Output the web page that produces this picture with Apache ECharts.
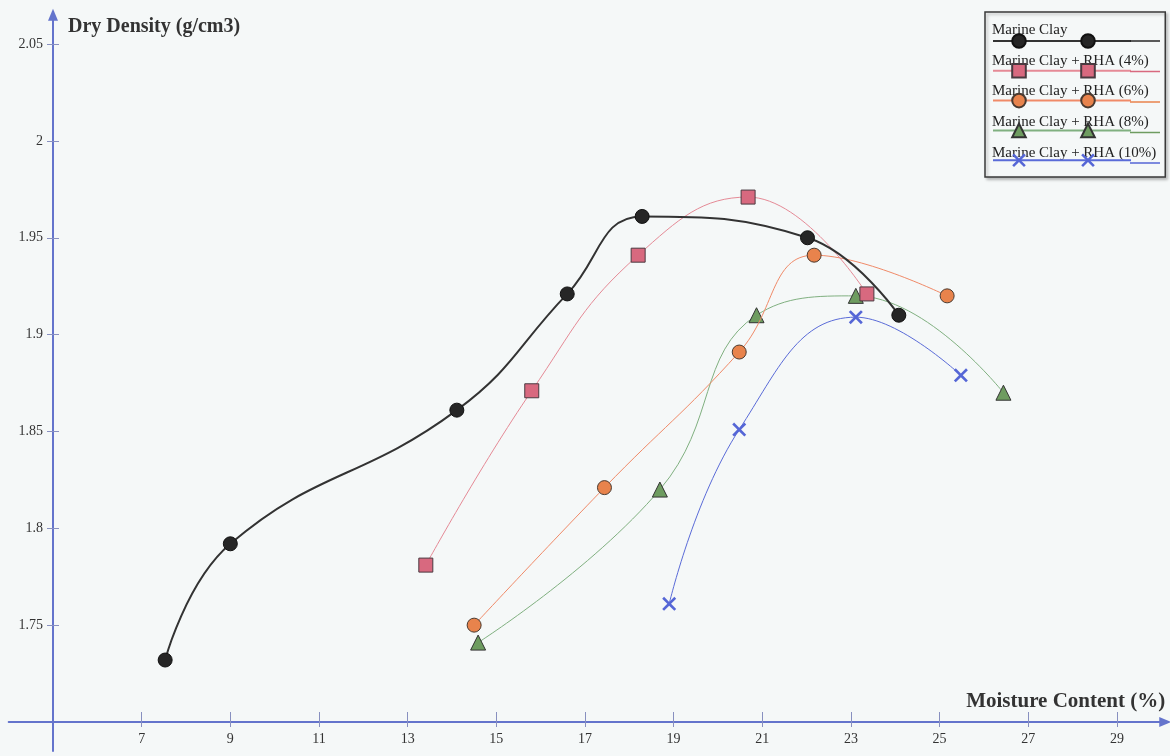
<!DOCTYPE html>
<html>
<head>
<meta charset="utf-8">
<script src="https://cdn.jsdelivr.net/npm/echarts@6/dist/echarts.min.js"></script>
<style>
html,body{margin:0;padding:0;background:#f5f8f8;}
#chart{width:1170px;height:756px;}
</style>
</head>
<body>
<div id="chart"></div>
<script>
// ---- data ----
const xTicks = [7, 9, 11, 13, 15, 17, 19, 21, 23, 25, 27, 29];
const yTicks = [1.75, 1.8, 1.85, 1.9, 1.95, 2, 2.05];

const seriesNames = ['Marine Clay', 'Marine Clay + RHA (4%)', 'Marine Clay + RHA (6%)', 'Marine Clay + RHA (8%)', 'Marine Clay + RHA (10%)'];

const mcX = [7.53, 9.0, 14.11, 16.60, 18.29, 22.02, 24.08];
const mcY = [1.732, 1.792, 1.861, 1.921, 1.961, 1.950, 1.910];

const rha4X = [13.41, 15.80, 18.20, 20.68, 23.36];
const rha4Y = [1.781, 1.871, 1.941, 1.971, 1.921];

const rha6X = [14.50, 17.44, 20.48, 22.17, 25.17];
const rha6Y = [1.750, 1.821, 1.891, 1.941, 1.920];

const rha8X = [14.59, 18.69, 20.87, 23.11, 26.44];
const rha8Y = [1.741, 1.820, 1.910, 1.920, 1.870];

const rha10X = [18.90, 20.48, 23.11, 25.48];
const rha10Y = [1.761, 1.851, 1.909, 1.879];

// ---- styling ----
const FONT = 'Liberation Serif';
const AXIS_BLUE = '#6474cc';
const xPath = 'path://M0,1.6 L1.6,0 L6,4.4 L10.4,0 L12,1.6 L7.6,6 L12,10.4 L10.4,12 L6,7.6 L1.6,12 L0,10.4 L4.4,6 Z';

const styles = [
  {symbol: 'circle', size: 14, fill: '#262626', border: '#111', bw: 1, line: '#333333', lw: 2},
  {symbol: 'rect', size: 14, fill: '#d8697f', border: '#4a3a40', bw: 1, line: '#e58a96', lw: 1},
  {symbol: 'circle', size: 14, fill: '#e8834c', border: '#4a3a30', bw: 1, line: '#f08a68', lw: 1},
  {symbol: 'triangle', size: 15, fill: '#6e9c60', border: '#333', bw: 1, line: '#80b080', lw: 1},
  {symbol: xPath, size: 14, fill: '#5566d6', border: '#5566d6', bw: 0, line: '#5a6bd8', lw: 1}
];

function zip(xs, ys) { return xs.map((x, i) => [x, ys[i]]); }
const dataSets = [zip(mcX, mcY), zip(rha4X, rha4Y), zip(rha6X, rha6Y), zip(rha8X, rha8Y), zip(rha10X, rha10Y)];

const series = dataSets.map((d, i) => ({
  type: 'line',
  name: seriesNames[i],
  data: d,
  smooth: 0.45,
  symbol: styles[i].symbol,
  symbolSize: styles[i].size,
  showAllSymbol: true,
  z: 5 - i + 2,
  lineStyle: {color: styles[i].line, width: styles[i].lw},
  itemStyle: {color: styles[i].fill, borderColor: styles[i].border, borderWidth: styles[i].bw}
}));

// geometry: x 5 -> 53px, 44.33 px/unit ; y 1.70 -> 722px, 1937 px/unit
const X_MIN = 4, X_MAX = 30;
const Y_MIN = 1.685, Y_MAX = 2.063;
const PX_X = 44.33, PX_Y = 1937;
const gridLeft = 53 - (5 - X_MIN) * PX_X;
const gridRight = 1170 - (53 + (X_MAX - 5) * PX_X);
const gridTop = 722 - (Y_MAX - 1.70) * PX_Y;
const gridBottom = 756 - (722 + (1.70 - Y_MIN) * PX_Y);
const yOffset = -(5 - X_MIN) * PX_X;
const xOffset = -(1.70 - Y_MIN) * PX_Y;

const tickLabelStyle = {fontFamily: FONT, fontSize: 14, color: '#333'};
const nameStyle = {fontFamily: FONT, fontSize: 20, fontWeight: 'bold', color: '#333'};

const option = {
  backgroundColor: '#f5f8f8',
  animation: false,
  grid: {left: gridLeft, right: gridRight, top: gridTop, bottom: gridBottom, containLabel: false},
  xAxis: [
    {
      type: 'value', min: X_MIN, max: X_MAX, position: 'bottom', offset: xOffset,
      axisLine: {show: true, lineStyle: {color: AXIS_BLUE, width: 2}, symbol: ['none', 'triangle'], symbolSize: [10, 12], symbolOffset: [0, 4]},
      axisTick: {show: true, customValues: xTicks, length: 5, lineStyle: {color: '#8890c0', width: 1}},
      axisLabel: {customValues: xTicks, margin: 10, ...tickLabelStyle},
      splitLine: {show: false},
      name: 'Moisture Content (%)', nameLocation: 'end', nameGap: 4,
      nameTextStyle: {...nameStyle, fontSize: 21, align: 'right', verticalAlign: 'bottom', padding: [0, 0, 10, 0]}
    },
    {
      type: 'value', min: X_MIN, max: X_MAX, position: 'bottom', offset: xOffset,
      axisLine: {show: false},
      axisTick: {show: true, customValues: xTicks, inside: true, length: 10, lineStyle: {color: '#8890c0', width: 1}},
      axisLabel: {show: false},
      splitLine: {show: false}
    }
  ],
  yAxis: [
    {
      type: 'value', min: Y_MIN, max: Y_MAX, position: 'left', offset: yOffset,
      axisLine: {show: true, lineStyle: {color: AXIS_BLUE, width: 2}, symbol: ['none', 'triangle'], symbolSize: [10, 12], symbolOffset: [0, 4]},
      axisTick: {show: true, customValues: yTicks, length: 6, lineStyle: {color: '#8890c0', width: 1}},
      axisLabel: {customValues: yTicks, margin: 10, ...tickLabelStyle},
      splitLine: {show: false},
      name: 'Dry Density (g/cm3)', nameLocation: 'end', nameGap: -8,
      nameTextStyle: {...nameStyle, align: 'left', verticalAlign: 'middle', padding: [0, 0, 0, 15]}
    },
    {
      type: 'value', min: Y_MIN, max: Y_MAX, position: 'left', offset: yOffset,
      axisLine: {show: false},
      axisTick: {show: true, customValues: yTicks, inside: true, length: 6, lineStyle: {color: '#8890c0', width: 1}},
      axisLabel: {show: false},
      splitLine: {show: false}
    }
  ],
  legend: [
    {
      data: seriesNames, orient: 'vertical', left: 985, top: 12,
      padding: [10.5, 9, 16.5, 2],
      icon: 'rect', itemWidth: 0, itemHeight: 15, itemGap: 15.75,
      itemStyle: {color: 'transparent', borderWidth: 0},
      textStyle: {fontFamily: FONT, fontSize: 15, color: '#222', lineHeight: 15},
      borderColor: '#3a3a3a', borderWidth: 1.5,
      backgroundColor: '#f5f8f8',
      shadowColor: 'rgba(0,0,0,0.25)', shadowBlur: 3, shadowOffsetX: 2, shadowOffsetY: 2,
      selectedMode: false, z: 2
    },
    {
      data: seriesNames, orient: 'vertical', left: 992, top: 32.5, padding: 0,
      itemWidth: 52, itemHeight: 17, itemGap: 13.5,
      formatter: () => '', textStyle: {fontSize: 1},
      selectedMode: false, z: 3
    },
    {
      data: seriesNames, orient: 'vertical', left: 1044, top: 32.5, padding: 0,
      itemWidth: 86, itemHeight: 17, itemGap: 13.5,
      formatter: () => '', textStyle: {fontSize: 1},
      selectedMode: false, z: 3
    },
    {
      data: seriesNames, orient: 'vertical', left: 1130, top: 40.25, padding: 0,
      icon: 'rect', itemWidth: 30, itemHeight: 1.5, itemGap: 29,
      itemStyle: {borderWidth: 0},
      formatter: () => '', textStyle: {fontSize: 1},
      selectedMode: false, z: 3
    }
  ],
  series: series
};

const chart = echarts.init(document.getElementById('chart'), null, {renderer: 'canvas'});
chart.setOption(option);
</script>
</body>
</html>
